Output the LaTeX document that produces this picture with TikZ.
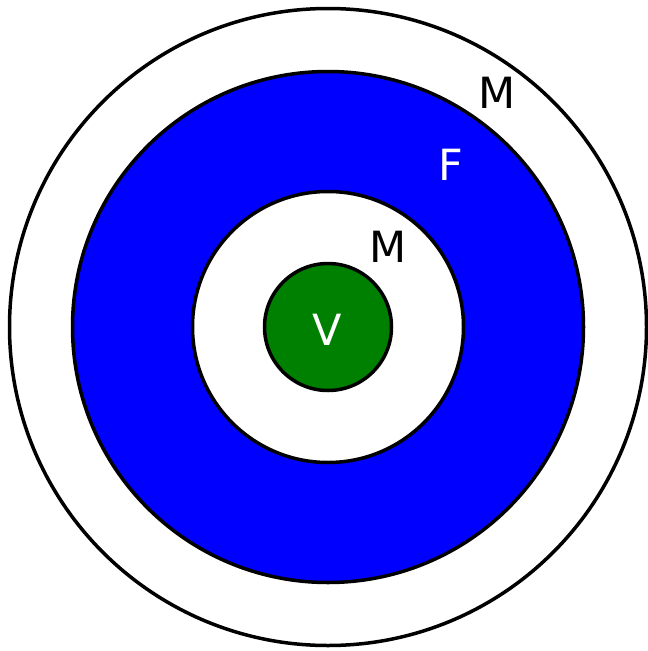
\documentclass[tikz,border=0pt]{standalone}
\usepackage{fontspec}
\setmainfont{DejaVu Sans}
\usepackage{tikz}
\usetikzlibrary{positioning}
\definecolor{ringblue}{HTML}{0000FF}
\definecolor{coregreen}{HTML}{008000}

\begin{document}
\begin{tikzpicture}[
    x=1pt, y=-1pt,
    ring/.style={circle, draw=black, line width=3.5pt, inner sep=0pt},
    tag/.style={font=\fontsize{43}{50}\selectfont, inner sep=0pt}
]
\useasboundingbox (0,0) rectangle (648,651);
\node[ring, fill=white, minimum size=637pt] (outer) at (328,327) {};
\node[ring, fill=ringblue, minimum size=511pt] (field) at (outer.center) {};
\node[ring, fill=white, minimum size=271pt] (inner) at (outer.center) {};
\node[ring, fill=coregreen, minimum size=127pt] (core) at (outer.center) {};

\node[tag, text=black] (mout) at (497,93) {M};
\node[tag, text=white] (flbl) at (451,165) {F};
\node[tag, text=black] (min) at (388,247) {M};
\node[tag, text=white] (vlbl) at (327,330) {V};
\end{tikzpicture}
\end{document}
